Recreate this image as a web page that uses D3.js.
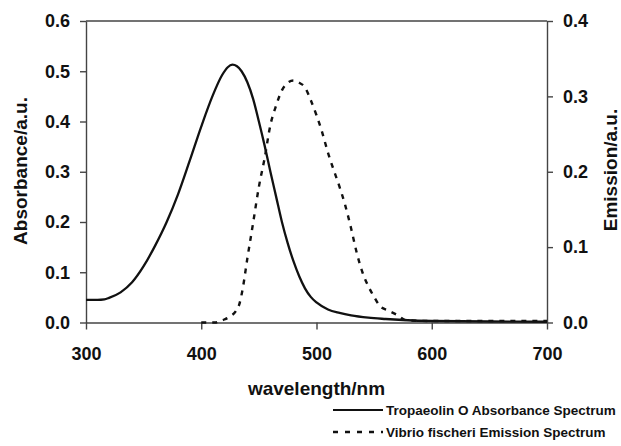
<!DOCTYPE html>
<html>
<head>
<meta charset="utf-8">
<script src="https://d3js.org/d3.v7.min.js"></script>
<style>
  body { margin: 0; background: #fff; }
  text { font-family: "Liberation Sans", Arial, sans-serif; font-weight: bold; fill: #111; }
</style>
</head>
<body>
<div id="chart"></div>
<script>
// absorbance spectrum (left axis)
var absWave = [300, 310, 316, 320, 330, 340, 350, 360, 370, 380, 390, 400, 410, 418, 423, 427, 431, 435, 440, 445, 450, 455, 460, 465, 470, 475, 480, 485, 490, 495, 500, 510, 520, 530, 545, 560, 575, 600, 650, 700];
var absValue = [0.045, 0.045, 0.046, 0.049, 0.060, 0.080, 0.112, 0.153, 0.200, 0.256, 0.322, 0.390, 0.452, 0.492, 0.508, 0.513, 0.510, 0.500, 0.478, 0.445, 0.400, 0.352, 0.300, 0.250, 0.200, 0.158, 0.122, 0.092, 0.068, 0.051, 0.040, 0.026, 0.019, 0.014, 0.0095, 0.007, 0.005, 0.003, 0.002, 0.0015];

// emission spectrum (right axis)
var emWave = [400, 412, 416, 420, 425, 430, 433, 436, 440, 445, 450, 455, 460, 465, 470, 475, 480, 485, 490, 495, 500, 505, 510, 515, 520, 525, 530, 535, 540, 545, 550, 555, 562, 570, 578, 600, 650, 700];
var emValue = [0, 0, 0.002, 0.004, 0.008, 0.015, 0.024, 0.045, 0.085, 0.132, 0.180, 0.218, 0.262, 0.288, 0.308, 0.318, 0.321, 0.318, 0.312, 0.295, 0.275, 0.252, 0.225, 0.202, 0.180, 0.155, 0.125, 0.092, 0.066, 0.048, 0.034, 0.022, 0.016, 0.010, 0.003, 0.002, 0.002, 0.002];

var xTicks = [300, 400, 500, 600, 700];
var leftTicks = [0, 0.1, 0.2, 0.3, 0.4, 0.5, 0.6];
var rightTicks = [0, 0.1, 0.2, 0.3, 0.4];
var legendLabels = ["Tropaeolin O Absorbance Spectrum", "Vibrio fischeri Emission Spectrum"];

var margin = {top: 21, right: 74, bottom: 123.5, left: 86},
    width = 621 - margin.left - margin.right,
    height = 446 - margin.top - margin.bottom;

var svg = d3.select("#chart")
  .append("svg")
    .attr("width", 621)
    .attr("height", 446)
  .append("g")
    .attr("transform", "translate(" + margin.left + "," + margin.top + ")");

var x = d3.scaleLinear().domain([300, 700]).range([0, width]);
var yL = d3.scaleLinear().domain([0, 0.6]).range([height, 0]);
var yR = d3.scaleLinear().domain([0, 0.4]).range([height, 0]);

// top border
svg.append("line")
  .attr("x1", 0).attr("x2", width)
  .attr("y1", 0).attr("y2", 0)
  .attr("stroke", "#444").attr("stroke-width", 1.4);

var fmt = d3.format(".1f");

var gx = svg.append("g")
  .attr("transform", "translate(0," + height + ")")
  .call(d3.axisBottom(x).tickValues(xTicks).tickSize(7).tickSizeOuter(0).tickPadding(18).tickFormat(d3.format("d")));

var gl = svg.append("g")
  .call(d3.axisLeft(yL).tickValues(leftTicks).tickSize(6).tickSizeOuter(0).tickPadding(10).tickFormat(fmt));

var gr = svg.append("g")
  .attr("transform", "translate(" + width + ",0)")
  .call(d3.axisRight(yR).tickValues(rightTicks).tickSize(6).tickSizeOuter(0).tickPadding(10).tickFormat(fmt));

[gx, gl, gr].forEach(function(g) {
  g.select(".domain").attr("stroke", "#444").attr("stroke-width", 1.4);
  g.selectAll(".tick line").attr("stroke", "#444").attr("stroke-width", 1.4);
  g.selectAll(".tick text")
    .style("font-family", "'Liberation Sans', Arial, sans-serif")
    .style("font-weight", "bold")
    .style("font-size", "18px")
    .attr("fill", "#111");
});

// axis titles
svg.append("text")
  .attr("x", width / 2)
  .attr("y", 374)
  .style("text-anchor", "middle")
  .style("font-size", "19px")
  .text("wavelength/nm");

svg.append("text")
  .attr("transform", "translate(" + (27 - margin.left) + "," + (171 - margin.top) + ") rotate(-90)")
  .style("text-anchor", "middle")
  .style("font-size", "19px")
  .text("Absorbance/a.u.");

svg.append("text")
  .attr("transform", "translate(" + (617 - margin.left) + "," + (170 - margin.top) + ") rotate(-90)")
  .style("text-anchor", "middle")
  .style("font-size", "19px")
  .text("Emission/a.u.");

// curves
var absData = absWave.map(function(w, i) { return {w: w, v: absValue[i]}; });
var emData = emWave.map(function(w, i) { return {w: w, v: emValue[i]}; });

svg.append("path")
  .datum(emData)
  .attr("fill", "none")
  .attr("stroke", "#111")
  .attr("stroke-width", 2.4)
  .attr("stroke-dasharray", "5,6")
  .attr("d", d3.line()
    .curve(d3.curveMonotoneX)
    .x(function(d) { return x(d.w); })
    .y(function(d) { return yR(d.v); }));

svg.append("path")
  .datum(absData)
  .attr("fill", "none")
  .attr("stroke", "#111")
  .attr("stroke-width", 2.3)
  .attr("d", d3.line()
    .curve(d3.curveMonotoneX)
    .x(function(d) { return x(d.w); })
    .y(function(d) { return yL(d.v); }));

// legend
var legend = svg.append("g")
  .attr("transform", "translate(" + (333 - margin.left) + "," + (410 - margin.top) + ")");

legend.append("line")
  .attr("x1", 0).attr("x2", 50).attr("y1", 0).attr("y2", 0)
  .attr("stroke", "#111").attr("stroke-width", 2);
legend.append("line")
  .attr("x1", 0).attr("x2", 50).attr("y1", 22).attr("y2", 22)
  .attr("stroke", "#111").attr("stroke-width", 2.4)
  .attr("stroke-dasharray", "5,7");

legend.selectAll("text.leg")
  .data(legendLabels)
  .enter().append("text")
    .attr("class", "leg")
    .attr("x", 53)
    .attr("y", function(d, i) { return i * 22; })
    .attr("dy", "0.35em")
    .style("font-size", "13.5px")
    .text(function(d) { return d; });
</script>
</body>
</html>
